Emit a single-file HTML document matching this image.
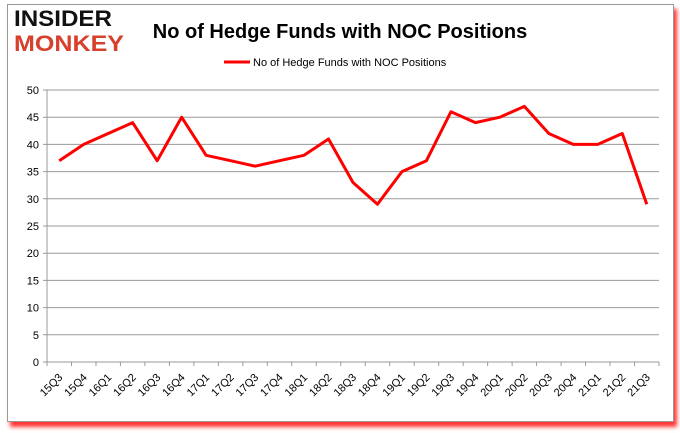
<!DOCTYPE html>
<html><head><meta charset="utf-8"><style>
body{margin:0;background:#fff;width:680px;height:433px;overflow:hidden;font-family:"Liberation Sans",sans-serif}
#frame{position:absolute;left:7px;top:4px;width:665px;height:416px;border:1px solid #999;background:#fff;box-shadow:3px 5px 4px #f00c}
</style></head><body>
<div id="frame"></div>
<svg width="680" height="433" style="position:absolute;left:0;top:0" id="chart">
<text x="14" y="26" font-size="22" font-weight="bold" fill="#111" textLength="98" lengthAdjust="spacingAndGlyphs">INSIDER</text>
<text x="14" y="51" font-size="22" font-weight="bold" fill="#d7402b" textLength="110" lengthAdjust="spacingAndGlyphs">MONKEY</text>
<text x="340" y="38" font-size="20" font-weight="bold" text-anchor="middle" fill="#000">No of Hedge Funds with NOC Positions</text>
<line x1="224" y1="62" x2="250" y2="62" stroke="#f00" stroke-width="3"/>
<text x="253" y="66" font-size="11" fill="#000">No of Hedge Funds with NOC Positions</text>
<g id="grid"></g><g id="axes"></g><path id="series" fill="none" stroke="#f00" stroke-width="3" stroke-linejoin="round"/>
</svg>
<script>
const categories=["15Q3","15Q4","16Q1","16Q2","16Q3","16Q4","17Q1","17Q2","17Q3","17Q4","18Q1","18Q2","18Q3","18Q4","19Q1","19Q2","19Q3","19Q4","20Q1","20Q2","20Q3","20Q4","21Q1","21Q2","21Q3"];
const values=[37,40,42,44,37,45,38,37,36,37,38,41,33,29,35,37,46,44,45,47,42,40,40,42,29];
const yTicks=[0,5,10,15,20,25,30,35,40,45,50];
const L=47,R=659,T=90,B=362;
const step=(R-L)/categories.length;
const x=i=>L+step*(i+0.5);
const y=v=>B-(v/50)*(B-T);
const ns="http://www.w3.org/2000/svg";
const grid=document.getElementById('grid'),axes=document.getElementById('axes');
function mk(p,tag,a){const e=document.createElementNS(ns,tag);for(const k in a)e.setAttribute(k,a[k]);p.appendChild(e);return e;}
yTicks.forEach(t=>{
 const l=mk(grid,'line',{x1:L-4,x2:R,y1:y(t),y2:y(t),stroke:'#999','stroke-width':1});
 
 
 const tx=mk(axes,'text',{x:L-8,y:y(t)+4,'font-size':11,'text-anchor':'end'});tx.textContent=t;
 
 
});
const ya=mk(axes,'line',{x1:L,x2:L,y1:T,y2:B,stroke:'#999'});


categories.forEach((c,i)=>{
 const tk=mk(axes,'line',{x1:L+step*i,x2:L+step*i,y1:B,y2:B+4,stroke:'#999'});
 
 
 const tx=mk(axes,'text',{x:x(i)+4,y:B+16,'font-size':11,'text-anchor':'end',transform:`rotate(-45 ${x(i)+4} ${B+16})`});tx.textContent=c;
 
 
});
const tk=mk(axes,'line',{x1:R,x2:R,y1:B,y2:B+4,stroke:'#999'});
const s=document.getElementById('series');
s.setAttribute('d',values.map((v,i)=>(i?'L':'M')+x(i)+','+y(v)).join(''));


</script>
</body></html>
